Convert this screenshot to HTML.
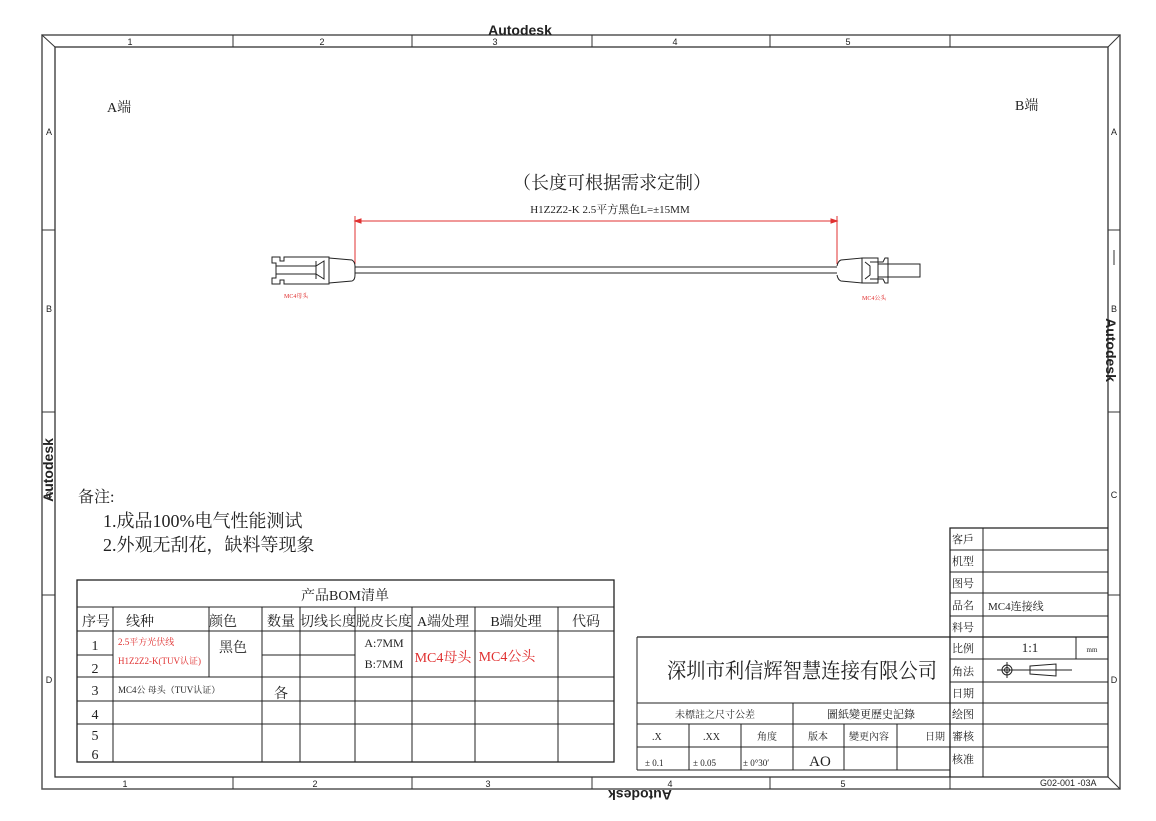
<!DOCTYPE html>
<html><head><meta charset="utf-8"><style>
html,body{margin:0;padding:0;background:#fff}
svg{display:block}
text{font-family:"Liberation Serif","Noto Serif CJK SC","Noto Sans CJK SC",serif;fill:#222}
.s{font-family:"Liberation Sans",sans-serif}
.r{fill:#e03030}
</style></head><body>
<svg width="1156" height="821" viewBox="0 0 1156 821" xmlns="http://www.w3.org/2000/svg">
<g stroke="#333" fill="none" stroke-width="1">
<rect x="42" y="35" width="1078" height="754" stroke="#555" stroke-width="1.5"/>
<rect x="55" y="47" width="1053" height="730" stroke-width="1.3"/>
<line x1="42" y1="35" x2="55" y2="47"/><line x1="1120" y1="35" x2="1108" y2="47"/>
<line x1="1120" y1="789" x2="1108" y2="777"/>
<line x1="233" y1="35" x2="233" y2="47"/><line x1="412" y1="35" x2="412" y2="47"/><line x1="592" y1="35" x2="592" y2="47"/><line x1="770" y1="35" x2="770" y2="47"/><line x1="950" y1="35" x2="950" y2="47"/>
<line x1="233" y1="777" x2="233" y2="789"/><line x1="412" y1="777" x2="412" y2="789"/><line x1="592" y1="777" x2="592" y2="789"/><line x1="770" y1="777" x2="770" y2="789"/><line x1="950" y1="777" x2="950" y2="789"/>
<line x1="42" y1="230" x2="55" y2="230"/><line x1="42" y1="412" x2="55" y2="412"/><line x1="42" y1="595" x2="55" y2="595"/>
<line x1="1108" y1="230" x2="1120" y2="230"/><line x1="1108" y1="412" x2="1120" y2="412"/><line x1="1108" y1="595" x2="1120" y2="595"/>
<line x1="1114" y1="250" x2="1114" y2="265"/>
</g>
<g class="s" font-size="9" text-anchor="middle">
<text x="130" y="45" class="s">1</text><text x="322" y="45" class="s">2</text><text x="495" y="45" class="s">3</text><text x="675" y="45" class="s">4</text><text x="848" y="45" class="s">5</text>
<text x="125" y="787" class="s">1</text><text x="315" y="787" class="s">2</text><text x="488" y="787" class="s">3</text><text x="670" y="787" class="s">4</text><text x="843" y="787" class="s">5</text>
<text x="49" y="135" class="s">A</text><text x="49" y="312" class="s">B</text><text x="49" y="498" class="s">C</text><text x="49" y="683" class="s">D</text>
<text x="1114" y="135" class="s">A</text><text x="1114" y="312" class="s">B</text><text x="1114" y="498" class="s">C</text><text x="1114" y="683" class="s">D</text>
</g>
<g class="s" font-weight="bold" font-size="14">
<text x="520" y="35" text-anchor="middle" class="s" font-weight="bold">Autodesk</text>
<text transform="translate(53,470) rotate(-90)" text-anchor="middle" class="s" font-weight="bold">Autodesk</text>
<text transform="translate(1106,350) rotate(90)" text-anchor="middle" class="s" font-weight="bold">Autodesk</text>
<text transform="translate(640,790) rotate(180)" text-anchor="middle" class="s" font-weight="bold">Autodesk</text>
</g>
<text x="107" y="112" font-size="14">A端</text>
<text x="1015" y="110" font-size="14">B端</text>
<text x="612" y="189" font-size="18" text-anchor="middle">（长度可根据需求定制）</text>
<text x="610" y="213" font-size="11" text-anchor="middle">H1Z2Z2-K  2.5平方黑色L=±15MM</text>
<g stroke="#e03030" fill="#e03030">
<line x1="355" y1="221" x2="837" y2="221"/>
<line x1="355" y1="216" x2="355" y2="264"/><line x1="837" y1="216" x2="837" y2="264"/>
<polygon points="355,221 361,219 361,223"/><polygon points="837,221 831,219 831,223"/>
</g>
<g stroke="#222" fill="none">
<line x1="355" y1="267" x2="837" y2="267"/><line x1="355" y1="273" x2="837" y2="273"/>
<path d="M272,257 h8 v4 h4 v-4 h45 v27 h-45 v-4 h-4 v4 h-8 v-6 h4 v-15 h-4z"/>
<path d="M276,266 h40 l8,-5 v18 l-8,-5 h-40"/>
<line x1="316" y1="261" x2="316" y2="279"/>
<path d="M329,258 L352,260 Q355,262 355,266 V275 Q355,280 352,281 L329,283"/>
<path d="M837,266 Q838,261 841,260 L862,258 V283 L841,281 Q838,280 837,275"/>
<rect x="862" y="258" width="16" height="25"/>
<path d="M865,262 l5,4 v9 l-5,4"/>
<path d="M870,262 h8 v17 h-8"/>
<path d="M878,262 h5 l2,-4 h3 v25 h-3 l-2,-4 h-5"/>
<rect x="878" y="264" width="42" height="13"/>
</g>
<text x="284" y="298" font-size="6" class="r">MC4母头</text>
<text x="862" y="300" font-size="6" class="r">MC4公头</text>
<text x="78" y="502" font-size="16">备注:</text>
<text x="103" y="527" font-size="18">1.成品100%电气性能测试</text>
<text x="103" y="551" font-size="18">2.外观无刮花，缺料等现象</text>
<g stroke="#222" fill="none" stroke-width="1">
<rect x="77" y="580" width="537" height="182" stroke-width="1.3"/>
<line x1="77" y1="607" x2="614" y2="607"/><line x1="77" y1="631" x2="614" y2="631"/>
<line x1="77" y1="677" x2="614" y2="677"/><line x1="77" y1="701" x2="614" y2="701"/><line x1="77" y1="724" x2="614" y2="724"/>
<line x1="77" y1="655" x2="113" y2="655"/><line x1="262" y1="655" x2="355" y2="655"/>
<line x1="113" y1="607" x2="113" y2="762"/><line x1="209" y1="607" x2="209" y2="677"/>
<line x1="262" y1="607" x2="262" y2="762"/><line x1="300" y1="607" x2="300" y2="762"/>
<line x1="355" y1="607" x2="355" y2="762"/><line x1="412" y1="607" x2="412" y2="762"/>
<line x1="475" y1="607" x2="475" y2="762"/><line x1="558" y1="607" x2="558" y2="762"/>
</g>
<g font-size="14" text-anchor="middle">
<text x="345" y="600">产品BOM清单</text>
<text x="96" y="626">序号</text><text x="140" y="626">线种</text><text x="223" y="626">颜色</text>
<text x="281" y="626">数量</text><text x="328" y="626">切线长度</text><text x="384" y="626">脱皮长度</text>
<text x="443" y="626">A端处理</text><text x="516" y="626">B端处理</text><text x="586" y="626">代码</text>
<text x="95" y="650">1</text><text x="95" y="673">2</text><text x="95" y="695">3</text><text x="95" y="719">4</text><text x="95" y="740">5</text><text x="95" y="759">6</text>
<text x="233" y="652">黑色</text>
<text x="384" y="647" font-size="12">A:7MM</text><text x="384" y="668" font-size="12">B:7MM</text>
<text x="443" y="662" class="r">MC4母头</text><text x="507" y="661" class="r">MC4公头</text>
<text x="281" y="698">各</text>
</g>
<text x="118" y="645" font-size="9" class="r">2.5平方光伏线</text>
<text x="118" y="664" font-size="9" class="r">H1Z2Z2-K(TUV认证)</text>
<text x="118" y="693" font-size="9">MC4公 母头（TUV认证）</text>
<g stroke="#222" fill="none" stroke-width="1">
<path d="M950,777 V528 H1108" stroke-width="1.3"/>
<line x1="983" y1="528" x2="983" y2="777"/>
<line x1="950" y1="550" x2="1108" y2="550"/><line x1="950" y1="572" x2="1108" y2="572"/>
<line x1="950" y1="593" x2="1108" y2="593"/><line x1="950" y1="616" x2="1108" y2="616"/>
<line x1="637" y1="637" x2="1108" y2="637" stroke-width="1.3"/><line x1="950" y1="659" x2="1108" y2="659"/>
<line x1="950" y1="682" x2="1108" y2="682"/><line x1="637" y1="703" x2="1108" y2="703"/>
<line x1="637" y1="724" x2="1108" y2="724"/><line x1="637" y1="747" x2="1108" y2="747"/>
<line x1="637" y1="637" x2="637" y2="770"/><line x1="637" y1="770" x2="950" y2="770"/>
<line x1="1076" y1="637" x2="1076" y2="659"/>
<line x1="689" y1="724" x2="689" y2="770"/><line x1="741" y1="724" x2="741" y2="770"/>
<line x1="793" y1="703" x2="793" y2="770"/><line x1="844" y1="724" x2="844" y2="770"/><line x1="897" y1="724" x2="897" y2="770"/>
<circle cx="1007" cy="670" r="5"/><circle cx="1007" cy="670" r="2.5"/>
<line x1="997" y1="670" x2="1072" y2="670"/><line x1="1007" y1="662" x2="1007" y2="678"/>
<path d="M1030,666 L1056,664 V676 L1030,674 Z"/>
</g>
<g font-size="11">
<text x="952" y="543">客戶</text><text x="952" y="565">机型</text><text x="952" y="587">图号</text>
<text x="952" y="609">品名</text><text x="952" y="631">料号</text><text x="952" y="652">比例</text>
<text x="952" y="675">角法</text><text x="952" y="697">日期</text><text x="952" y="718">绘图</text>
<text x="952" y="740">審核</text><text x="952" y="763">核准</text>
<text x="988" y="610">MC4连接线</text>
<text x="1030" y="652" font-size="13" text-anchor="middle">1:1</text>
<text x="1092" y="652" font-size="7" text-anchor="middle">mm</text>
<text x="667" y="678" font-size="21" textLength="270" lengthAdjust="spacingAndGlyphs">深圳市利信辉智慧连接有限公司</text>
<text x="715" y="718" font-size="10" text-anchor="middle" fill="#555">未標註之尺寸公差</text>
<text x="871" y="718" font-size="11" text-anchor="middle" fill="#444">圖紙變更歷史記錄</text>
<text x="652" y="740" font-size="10">.X</text><text x="703" y="740" font-size="10">.XX</text>
<text x="767" y="740" font-size="10" text-anchor="middle" fill="#555">角度</text>
<text x="818" y="740" font-size="10" text-anchor="middle" fill="#555">版本</text>
<text x="849" y="740" font-size="10" fill="#555">變更內容</text>
<text x="925" y="740" font-size="10" fill="#555">日期</text>
<text x="645" y="766" font-size="9">± 0.1</text><text x="693" y="766" font-size="9">± 0.05</text>
<text x="743" y="766" font-size="9">± 0°30′</text>
<text x="820" y="766" font-size="15" text-anchor="middle">AO</text>
<text x="1040" y="786" font-size="9" class="s">G02-001   -03A</text>
</g>
</svg>
</body></html>
